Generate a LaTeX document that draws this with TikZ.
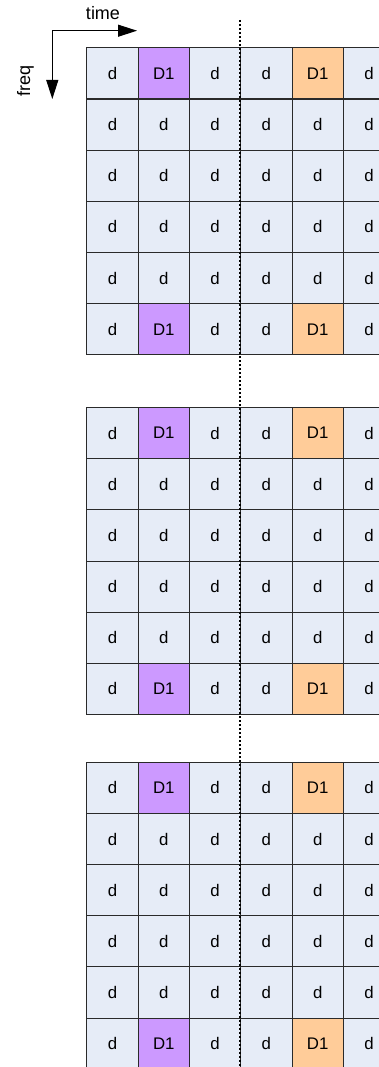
\documentclass[tikz,border=0pt]{standalone}
\usepackage{fontspec}
\setmainfont{Liberation Sans}
\usetikzlibrary{arrows.meta}
\definecolor{cellfill}{HTML}{E6ECF7}
\definecolor{purplefill}{HTML}{CC99FF}
\definecolor{orangefill}{HTML}{FFCC99}
\definecolor{cellline}{HTML}{2A2A2A}
\begin{document}
\begin{tikzpicture}[x=1pt,y=-1pt,
  cellbase/.style={draw=cellline, line width=1.1pt, minimum width=51.3pt, minimum height=51.17pt,
    anchor=north west, inner sep=0pt, font=\fontsize{16.8}{16.8}\selectfont},
  dcell/.style={cellbase, fill=cellfill},
  pcell/.style={cellbase, fill=purplefill},
  ocell/.style={cellbase, fill=orangefill},
  lbl/.style={inner sep=0pt, font=\fontsize{18}{18}\selectfont},
  axisline/.style={line width=1pt, {Triangle[length=19pt,width=12pt]}-{Triangle[length=19pt,width=12pt]}},
  dotline/.style={line width=1.8pt, dash pattern=on 2.4pt off 1.6pt}]
\useasboundingbox (0,0) rectangle (379,1067);
\foreach \g/\top in {1/47.3, 2/407, 3/761.7} {
  \foreach \r in {1,...,6} {
    \foreach \c in {1,...,6} {
      \pgfmathtruncatemacro\kind{(\r==1 || \r==6) ? (\c==2 ? 1 : (\c==5 ? 2 : 0)) : 0}
      \ifcase\kind
        \node[dcell] (c\g-\r-\c) at ({86.3+(\c-1)*51.3},{\top+(\r-1)*51.17}) {d};
      \or
        \node[pcell] (c\g-\r-\c) at ({86.3+(\c-1)*51.3},{\top+(\r-1)*51.17}) {D1};
      \or
        \node[ocell] (c\g-\r-\c) at ({86.3+(\c-1)*51.3},{\top+(\r-1)*51.17}) {D1};
      \fi
    }
  }
}
\coordinate (dtop) at (239.7,20);
\coordinate (dbot) at (239.7,1067);
\draw[dotline] (dtop) -- (dbot);
\coordinate (origin) at (52.3,30.7);
\coordinate (tend) at (137,30.7);
\coordinate (fend) at (52.3,99);
\draw[axisline] (tend) -- (origin) -- (fend);
\node[lbl] (time) at (103,13) {time};
\node[lbl, rotate=90] (freq) at (25.5,81) {freq};
\end{tikzpicture}
\end{document}
